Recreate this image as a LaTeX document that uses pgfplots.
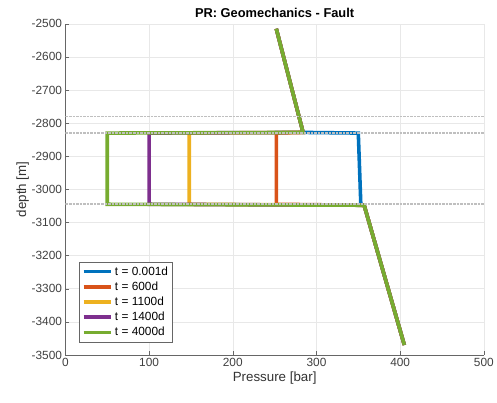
\documentclass[border=0pt]{standalone}
\usepackage{pgfplots}
\pgfplotsset{compat=1.18}
\usepackage{fontspec}
\setmainfont{Liberation Sans}

\definecolor{mblue}{rgb}{0,0.447,0.741}
\definecolor{morange}{rgb}{0.85,0.325,0.098}
\definecolor{myellow}{rgb}{0.929,0.694,0.125}
\definecolor{mpurple}{rgb}{0.494,0.184,0.556}
\definecolor{mgreen}{rgb}{0.466,0.674,0.188}
\definecolor{axgray}{rgb}{0.4,0.4,0.4}

\begin{document}
\begin{tikzpicture}
\begin{axis}[
  scale only axis,
  width=422bp, height=334bp,
  xmin=0, xmax=500, ymin=-3500, ymax=-2500,
  xtick={0,100,...,500}, ytick={-3500,-3400,...,-2500},
  axis lines=left, axis line style={-, axgray, line width=0.6pt},
  tick align=inside, major tick length=4bp,
  tick style={axgray},
  grid=major, major grid style={gray!18, line width=0.5pt},
  ticklabel style={font=\fontsize{12}{14}\selectfont, text=black!75},
  /pgf/number format/assume math mode=true,
  /pgf/number format/1000 sep={},
  xlabel={Pressure [bar]}, ylabel={depth [m]},
  label style={font=\fontsize{13.5}{15}\selectfont, text=black!80},
  xlabel style={yshift=2bp},
  ylabel style={yshift=-4bp},
  title={\textbf{PR: Geomechanics - Fault}},
  title style={font=\fontsize{13}{15}\selectfont, yshift=-3bp},
  legend style={at={(0.033,0.039)}, anchor=south west, draw=axgray,
    font=\fontsize{12}{14}\selectfont, row sep=1.2pt, inner sep=2.5pt},
  legend cell align=left,
  legend image code/.code={\draw[#1, line width=3.6pt] (0cm,0cm) -- (0.98cm,0cm);},
  every axis plot/.append style={line width=3.6pt},
]
\addplot[mblue] coordinates {(252,-2515) (284,-2828) (350,-2830) (353,-3045) (357,-3048) (405,-3470)};
\addlegendentry{t = 0.001d}
\addplot[morange] coordinates {(252,-2515) (284,-2828) (252,-2830) (252,-3045) (357,-3048) (405,-3470)};
\addlegendentry{t = 600d}
\addplot[myellow] coordinates {(252,-2515) (284,-2828) (148,-2830) (148,-3045) (357,-3048) (405,-3470)};
\addlegendentry{t = 1100d}
\addplot[mpurple] coordinates {(252,-2515) (284,-2828) (100,-2830) (100,-3045) (357,-3048) (405,-3470)};
\addlegendentry{t = 1400d}
\addplot[mgreen] coordinates {(252,-2515) (284,-2828) (50,-2830) (50,-3045) (357,-3048) (405,-3470)};
\addlegendentry{t = 4000d}
\addplot[gray!50, line width=1.9pt, dash pattern=on 2.6pt off 1pt, forget plot] coordinates {(0,-2780) (500,-2780)};
\addplot[gray!50, line width=1.9pt, dash pattern=on 2.6pt off 1pt, forget plot] coordinates {(0,-2830) (500,-2830)};
\addplot[gray!50, line width=1.9pt, dash pattern=on 2.6pt off 1pt, forget plot] coordinates {(0,-3045) (500,-3045)};
\end{axis}
\path (current axis.south west) ++(-66bp,-48bp);
\path (current axis.north east) ++(9bp,24bp);
\end{tikzpicture}
\end{document}
